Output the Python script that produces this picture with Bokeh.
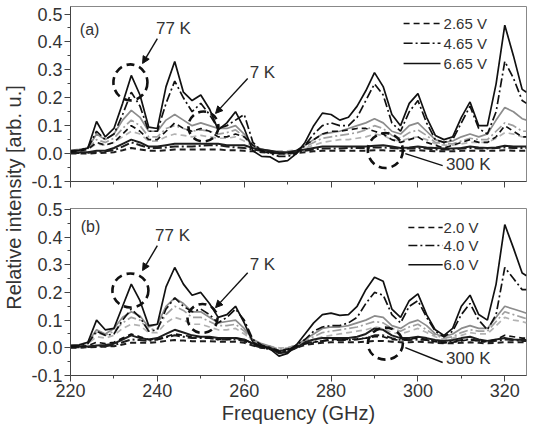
import math
from bokeh.plotting import figure
from bokeh.models import (Range1d, FixedTicker, PrintfTickFormatter, Label, Arrow, NormalHead,
                          CustomLabelingPolicy)
from bokeh.layouts import row, column
from bokeh.embed import file_html
from bokeh.resources import INLINE

# ---------------- data ----------------
freq = [220, 222, 224, 226, 228, 230, 232, 234, 236, 238,
        240, 242, 244, 246, 248, 250, 252, 254, 256, 258,
        260, 262, 264, 266, 268, 270, 272, 274, 276, 278,
        280, 282, 284, 286, 288, 290, 292, 294, 296, 298,
        300, 302, 304, 306, 308, 310, 312, 314, 316, 318,
        320, 322, 324, 325]

x_ticks = [220, 240, 260, 280, 300, 320]
x_minor = [230, 250, 270, 290, 310]
y_ticks = [-0.1, 0.0, 0.1, 0.2, 0.3, 0.4, 0.5]
y_minor = [-0.05, 0.05, 0.15, 0.25, 0.35, 0.45]

legend_a = ["2.65 V", "4.65 V", "6.65 V"]
legend_b = ["2.0 V", "4.0 V", "6.0 V"]

# panel (a): 77 K
a77_dash = [0.005, 0.010, 0.015, 0.040, 0.030, 0.040, 0.070, 0.100, 0.080, 0.050,
            0.050, 0.080, 0.110, 0.090, 0.080, 0.090, 0.080, 0.060, 0.060, 0.070,
            0.060, 0.030, 0.010, 0.005, 0.000, 0.000, 0.010, 0.030, 0.050, 0.070,
            0.080, 0.080, 0.085, 0.090, 0.090, 0.080, 0.070, 0.050, 0.040, 0.050,
            0.060, 0.040, 0.030, 0.020, 0.030, 0.040, 0.050, 0.040, 0.040, 0.060,
            0.100, 0.080, 0.060, 0.060]
a77_dashdot = [0.010, 0.012, 0.020, 0.080, 0.050, 0.070, 0.140, 0.220, 0.170, 0.080,
               0.080, 0.180, 0.260, 0.200, 0.150, 0.180, 0.140, 0.090, 0.100, 0.120,
               0.140, 0.040, 0.010, 0.000, -0.010, -0.010, 0.000, 0.030, 0.070, 0.100,
               0.110, 0.100, 0.100, 0.130, 0.190, 0.250, 0.210, 0.110, 0.080, 0.150,
               0.190, 0.110, 0.050, 0.040, 0.050, 0.110, 0.170, 0.090, 0.070, 0.150,
               0.330, 0.270, 0.190, 0.180]
a77_solid = [0.010, 0.012, 0.020, 0.115, 0.060, 0.090, 0.180, 0.280, 0.210, 0.095,
             0.090, 0.240, 0.330, 0.220, 0.190, 0.210, 0.160, 0.085, 0.110, 0.150,
             0.090, 0.010, -0.010, -0.012, -0.030, -0.025, 0.000, 0.040, 0.100, 0.145,
             0.140, 0.120, 0.130, 0.170, 0.225, 0.290, 0.240, 0.140, 0.100, 0.180,
             0.215, 0.130, 0.065, 0.050, 0.060, 0.130, 0.185, 0.100, 0.100, 0.250,
             0.460, 0.350, 0.230, 0.220]
# panel (a): 7 K
a7_dash = [0.008, 0.010, 0.015, 0.035, 0.030, 0.040, 0.060, 0.080, 0.070, 0.045,
           0.045, 0.060, 0.070, 0.065, 0.060, 0.065, 0.060, 0.055, 0.055, 0.060,
           0.045, 0.025, 0.015, 0.010, 0.010, 0.010, 0.012, 0.020, 0.030, 0.040,
           0.045, 0.050, 0.050, 0.055, 0.060, 0.070, 0.065, 0.050, 0.045, 0.055,
           0.060, 0.050, 0.035, 0.030, 0.030, 0.035, 0.040, 0.040, 0.040, 0.055,
           0.075, 0.070, 0.060, 0.060]
a7_dashdot = [0.010, 0.012, 0.018, 0.050, 0.040, 0.055, 0.090, 0.120, 0.100, 0.060,
              0.060, 0.090, 0.100, 0.090, 0.080, 0.085, 0.080, 0.070, 0.075, 0.085,
              0.060, 0.030, 0.015, 0.010, 0.005, 0.005, 0.010, 0.025, 0.040, 0.055,
              0.060, 0.065, 0.070, 0.075, 0.085, 0.100, 0.090, 0.065, 0.055, 0.075,
              0.085, 0.065, 0.040, 0.035, 0.035, 0.045, 0.055, 0.050, 0.050, 0.080,
              0.110, 0.100, 0.080, 0.080]
a7_solid = [0.012, 0.015, 0.020, 0.070, 0.050, 0.070, 0.120, 0.155, 0.130, 0.080,
            0.080, 0.120, 0.140, 0.120, 0.100, 0.110, 0.100, 0.090, 0.090, 0.100,
            0.070, 0.030, 0.015, 0.010, 0.005, 0.000, 0.010, 0.030, 0.050, 0.070,
            0.075, 0.080, 0.090, 0.100, 0.110, 0.125, 0.110, 0.080, 0.070, 0.100,
            0.110, 0.080, 0.050, 0.040, 0.045, 0.060, 0.070, 0.060, 0.070, 0.120,
            0.165, 0.150, 0.125, 0.120]
# panel (a): 300 K
a300_dash = [0.000, 0.000, 0.000, 0.002, 0.003, 0.005, 0.012, 0.020, 0.015, 0.010,
             0.010, 0.012, 0.015, 0.015, 0.015, 0.015, 0.015, 0.015, 0.012, 0.012,
             0.010, 0.008, 0.005, 0.003, 0.000, 0.000, 0.002, 0.005, 0.008, 0.010,
             0.010, 0.010, 0.010, 0.010, 0.010, 0.012, 0.012, 0.010, 0.010, 0.010,
             0.012, 0.010, 0.008, 0.008, 0.008, 0.010, 0.010, 0.010, 0.010, 0.010,
             0.012, 0.010, 0.010, 0.010]
a300_dashdot = [0.002, 0.002, 0.003, 0.006, 0.008, 0.012, 0.025, 0.040, 0.030, 0.020,
                0.020, 0.022, 0.025, 0.025, 0.025, 0.028, 0.030, 0.030, 0.025, 0.022,
                0.020, 0.015, 0.010, 0.005, 0.000, 0.000, 0.005, 0.010, 0.015, 0.018,
                0.018, 0.018, 0.020, 0.020, 0.020, 0.022, 0.022, 0.020, 0.018, 0.018,
                0.020, 0.018, 0.015, 0.015, 0.015, 0.018, 0.020, 0.018, 0.018, 0.020,
                0.022, 0.020, 0.020, 0.020]
a300_solid = [0.005, 0.005, 0.005, 0.010, 0.010, 0.020, 0.035, 0.050, 0.040, 0.025,
              0.025, 0.030, 0.035, 0.035, 0.035, 0.035, 0.035, 0.035, 0.030, 0.030,
              0.030, 0.020, 0.015, 0.010, 0.005, 0.005, 0.010, 0.015, 0.020, 0.025,
              0.025, 0.025, 0.025, 0.025, 0.025, 0.028, 0.030, 0.025, 0.020, 0.022,
              0.025, 0.022, 0.020, 0.018, 0.018, 0.020, 0.025, 0.022, 0.020, 0.022,
              0.028, 0.025, 0.025, 0.025]

# panel (b): 77 K
b77_dash = [0.003, 0.005, 0.008, 0.020, 0.015, 0.020, 0.035, 0.050, 0.040, 0.030,
            0.030, 0.040, 0.050, 0.045, 0.040, 0.040, 0.035, 0.030, 0.030, 0.035,
            0.030, 0.015, 0.005, 0.000, -0.010, -0.005, 0.005, 0.015, 0.020, 0.025,
            0.030, 0.030, 0.030, 0.032, 0.035, 0.040, 0.040, 0.030, 0.028, 0.032,
            0.035, 0.030, 0.022, 0.018, 0.020, 0.025, 0.030, 0.025, 0.022, 0.030,
            0.045, 0.040, 0.035, 0.035]
b77_dashdot = [0.005, 0.008, 0.015, 0.060, 0.045, 0.050, 0.100, 0.140, 0.110, 0.060,
               0.065, 0.140, 0.180, 0.150, 0.130, 0.140, 0.120, 0.090, 0.110, 0.140,
               0.100, 0.030, 0.010, 0.000, -0.015, -0.010, 0.010, 0.030, 0.060, 0.075,
               0.080, 0.080, 0.090, 0.110, 0.160, 0.200, 0.190, 0.120, 0.090, 0.150,
               0.170, 0.110, 0.060, 0.040, 0.060, 0.120, 0.160, 0.100, 0.065, 0.120,
               0.290, 0.250, 0.210, 0.210]
b77_solid = [0.008, 0.010, 0.020, 0.100, 0.065, 0.070, 0.150, 0.230, 0.170, 0.080,
             0.085, 0.220, 0.290, 0.230, 0.190, 0.200, 0.160, 0.110, 0.120, 0.150,
             0.090, 0.020, 0.005, -0.005, -0.030, -0.020, 0.010, 0.050, 0.090, 0.120,
             0.125, 0.117, 0.120, 0.150, 0.210, 0.255, 0.240, 0.140, 0.110, 0.170,
             0.195, 0.120, 0.065, 0.045, 0.070, 0.150, 0.190, 0.120, 0.100, 0.230,
             0.445, 0.360, 0.270, 0.260]
# panel (b): 7 K
b7_dash = [0.008, 0.010, 0.015, 0.040, 0.035, 0.045, 0.070, 0.085, 0.080, 0.055,
           0.055, 0.090, 0.110, 0.100, 0.085, 0.085, 0.075, 0.065, 0.065, 0.070,
           0.050, 0.025, 0.012, 0.005, 0.000, 0.000, 0.008, 0.020, 0.030, 0.040,
           0.045, 0.050, 0.055, 0.060, 0.065, 0.075, 0.070, 0.055, 0.050, 0.060,
           0.070, 0.055, 0.040, 0.030, 0.035, 0.045, 0.055, 0.050, 0.050, 0.080,
           0.110, 0.100, 0.095, 0.090]
b7_dashdot = [0.010, 0.012, 0.018, 0.055, 0.045, 0.060, 0.090, 0.110, 0.100, 0.065,
              0.070, 0.120, 0.150, 0.135, 0.110, 0.110, 0.095, 0.080, 0.080, 0.085,
              0.060, 0.025, 0.012, 0.005, -0.005, 0.000, 0.010, 0.025, 0.040, 0.055,
              0.060, 0.065, 0.070, 0.075, 0.085, 0.095, 0.090, 0.070, 0.060, 0.075,
              0.085, 0.065, 0.045, 0.035, 0.040, 0.055, 0.065, 0.060, 0.060, 0.095,
              0.130, 0.120, 0.110, 0.105]
b7_solid = [0.010, 0.012, 0.020, 0.065, 0.050, 0.070, 0.110, 0.130, 0.115, 0.075,
            0.085, 0.150, 0.180, 0.160, 0.130, 0.130, 0.110, 0.090, 0.095, 0.100,
            0.070, 0.030, 0.015, 0.005, -0.010, -0.005, 0.010, 0.030, 0.050, 0.070,
            0.075, 0.075, 0.080, 0.090, 0.100, 0.115, 0.110, 0.080, 0.070, 0.090,
            0.100, 0.080, 0.050, 0.040, 0.050, 0.070, 0.080, 0.070, 0.070, 0.110,
            0.150, 0.140, 0.130, 0.125]
# panel (b): 300 K
b300_dash = [0.000, 0.000, 0.002, 0.003, 0.004, 0.006, 0.012, 0.018, 0.018, 0.018,
             0.020, 0.025, 0.028, 0.026, 0.024, 0.024, 0.024, 0.022, 0.022, 0.022,
             0.018, 0.008, 0.000, -0.005, -0.012, -0.008, 0.000, 0.010, 0.015, 0.018,
             0.020, 0.020, 0.020, 0.020, 0.022, 0.025, 0.025, 0.022, 0.020, 0.020,
             0.022, 0.020, 0.018, 0.016, 0.016, 0.018, 0.020, 0.018, 0.016, 0.018,
             0.020, 0.020, 0.020, 0.020]
b300_dashdot = [0.002, 0.002, 0.003, 0.005, 0.006, 0.010, 0.020, 0.030, 0.028, 0.025,
                0.030, 0.038, 0.045, 0.040, 0.035, 0.035, 0.035, 0.030, 0.030, 0.030,
                0.025, 0.010, 0.000, -0.005, -0.015, -0.010, 0.000, 0.015, 0.022, 0.025,
                0.028, 0.028, 0.028, 0.030, 0.035, 0.045, 0.045, 0.035, 0.028, 0.028,
                0.030, 0.028, 0.022, 0.020, 0.022, 0.028, 0.030, 0.025, 0.020, 0.025,
                0.030, 0.028, 0.025, 0.025]
b300_solid = [0.005, 0.005, 0.005, 0.008, 0.010, 0.015, 0.030, 0.045, 0.035, 0.030,
              0.035, 0.050, 0.065, 0.055, 0.045, 0.040, 0.040, 0.035, 0.035, 0.035,
              0.030, 0.015, 0.005, 0.000, -0.020, -0.015, 0.000, 0.020, 0.030, 0.035,
              0.035, 0.035, 0.035, 0.040, 0.050, 0.070, 0.065, 0.045, 0.035, 0.035,
              0.040, 0.035, 0.028, 0.025, 0.028, 0.035, 0.040, 0.030, 0.025, 0.030,
              0.035, 0.030, 0.028, 0.028]

# ---------------- styling ----------------
FONT = "Liberation Sans"
TXT = "#333333"
AX = "#444444"
DASH = "6 4"
DASHDOT = "9 3 2 3"
STYLES = [DASH, DASHDOT, "solid"]
YLAB_W = 27
LEFT = 70 - YLAB_W

NO_LABELS = CustomLabelingPolicy(code="""
try { return new indices.constructor(indices.size, 0) } catch (e) { return indices }
""")


def make_panel(height, top, bottom, y_end, show_xlabels):
    p = figure(width=533 - YLAB_W, height=height, title=None,
               x_range=Range1d(220, 325), y_range=Range1d(-0.1, y_end),
               output_backend="svg", toolbar_location=None,
               min_border_left=LEFT, min_border_right=7,
               min_border_top=top, min_border_bottom=bottom)
    p.grid.visible = False
    p.outline_line_color = "#888888"
    p.outline_line_width = 1
    p.background_fill_color = "white"
    p.border_fill_color = "white"
    p.xaxis.ticker = FixedTicker(ticks=x_ticks, minor_ticks=x_minor)
    p.yaxis.ticker = FixedTicker(ticks=y_ticks, minor_ticks=y_minor)
    p.yaxis.formatter = PrintfTickFormatter(format="%.1f")
    p.xaxis.formatter = PrintfTickFormatter(format="%d")
    for ax in (p.xaxis[0], p.yaxis[0]):
        ax.axis_line_color = AX
        ax.major_tick_line_color = AX
        ax.minor_tick_line_color = AX
        ax.major_tick_in = 0
        ax.major_tick_out = 6
        ax.minor_tick_in = 0
        ax.minor_tick_out = 3
        ax.major_label_text_font = FONT
        ax.major_label_text_font_size = "18px"
        ax.major_label_text_color = TXT
        ax.major_label_standoff = 2
    if show_xlabels:
        p.xaxis.axis_label = "Frequency (GHz)"
        p.xaxis.axis_label_text_font = FONT
        p.xaxis.axis_label_text_font_size = "20px"
        p.xaxis.axis_label_text_font_style = "normal"
        p.xaxis.axis_label_text_color = TXT
        p.xaxis.axis_label_standoff = 2
    else:
        p.xaxis.major_label_policy = NO_LABELS
        p.xaxis.major_label_text_font_size = "0px"
        p.xaxis.major_label_standoff = 0
    return p


def draw_series(p, s77, s7, s300):
    gray_cols = ["#b3b3b3", "#a0a0a0", "#8c8c8c"]
    for ys, dash, col in zip(s7, STYLES, gray_cols):
        p.line(freq, ys, line_color=col, line_width=1.7, line_dash=dash)
    for ys, dash in zip(s300, STYLES):
        p.line(freq, ys, line_color="#1e1e1e", line_width=2.0, line_dash=dash)
    for ys, dash in zip(s77, STYLES):
        p.line(freq, ys, line_color="#111111", line_width=1.7, line_dash=dash)


def add_text(p, x, y, text, size, align="center"):
    p.add_layout(Label(x=x, y=y, text=text, text_font=FONT, text_font_size=size,
                       text_color=TXT, text_align=align, text_baseline="middle"))


def add_arrow(p, x0, y0, x1, y1, head=True):
    end = NormalHead(size=7, line_color="#111111", fill_color="#111111") if head else None
    p.add_layout(Arrow(end=end, x_start=x0, y_start=y0, x_end=x1, y_end=y1,
                       line_color="#111111", line_width=1.4))


def add_legend(p, labels, rows, xs0, xs1, xt):
    for lab, yy, dash in zip(labels, rows, STYLES):
        p.add_layout(Arrow(end=None, x_start=xs0, y_start=yy, x_end=xs1, y_end=yy,
                           line_color="#111111", line_width=1.5, line_dash=dash))
        add_text(p, xt, yy, lab, "15px", align="left")


def add_circles(p, xs, ys, ws, hs):
    p.ellipse(x=xs, y=ys, width=ws, height=hs, width_units="screen", height_units="screen",
              fill_color=None, line_color="#111111", line_width=2.6, line_dash="8 5")


# ---------------- panel (a) ----------------
pa = make_panel(191, 6, 10, 0.527, False)
draw_series(pa, [a77_dash, a77_dashdot, a77_solid], [a7_dash, a7_dashdot, a7_solid],
            [a300_dash, a300_dashdot, a300_solid])
add_circles(pa, [233.8, 250.6, 292.5], [0.255, 0.097, 0.011], [34, 30, 35], [36, 30, 35])
add_text(pa, 224.4, 0.445, "(a)", "16px")
add_text(pa, 243.7, 0.448, "77 K", "17px")
add_arrow(pa, 240.0, 0.412, 236.6, 0.323)
add_text(pa, 264.2, 0.291, "7 K", "17px")
add_arrow(pa, 260.8, 0.269, 253.4, 0.144)
add_arrow(pa, 297.1, 0.000, 305.7, -0.043, head=False)
add_text(pa, 311.6, -0.039, "300 K", "17px")
add_legend(pa, legend_a, [0.466, 0.395, 0.323], 296.7, 305.2, 305.9)

# ---------------- panel (b) ----------------
pb = make_panel(239, 17, 55, 0.503, True)
draw_series(pb, [b77_dash, b77_dashdot, b77_solid], [b7_dash, b7_dashdot, b7_solid],
            [b300_dash, b300_dashdot, b300_solid])
add_circles(pb, [233.8, 250.4, 292.5], [0.207, 0.106, 0.015], [36, 30, 35], [34, 29, 32])
add_text(pb, 224.6, 0.437, "(b)", "16px")
add_text(pb, 243.5, 0.405, "77 K", "17px")
add_arrow(pb, 240.0, 0.369, 236.6, 0.279)
add_text(pb, 264.2, 0.300, "7 K", "17px")
add_arrow(pb, 260.8, 0.271, 253.4, 0.145)
add_arrow(pb, 297.1, 0.001, 305.7, -0.053, head=False)
add_text(pb, 311.6, -0.039, "300 K", "17px")
add_legend(pb, legend_b, [0.434, 0.369, 0.300], 297.8, 305.7, 305.9)

# ---------------- shared y-axis title ----------------
py = figure(width=YLAB_W, height=430, title=None, x_range=Range1d(0, YLAB_W), y_range=Range1d(430, 0),
            output_backend="svg", toolbar_location=None,
            min_border_left=0, min_border_right=0, min_border_top=0, min_border_bottom=0)
py.axis.visible = False
py.grid.visible = False
py.outline_line_color = None
py.add_layout(Label(x=13, y=197, text="Relative intensity [arb. u.]", angle=math.pi / 2,
                    text_font=FONT, text_font_size="20px", text_color=TXT,
                    text_align="center", text_baseline="middle"))

layout = row(py, column(pa, pb))
open("out.html", "w").write(file_html(layout, INLINE))
